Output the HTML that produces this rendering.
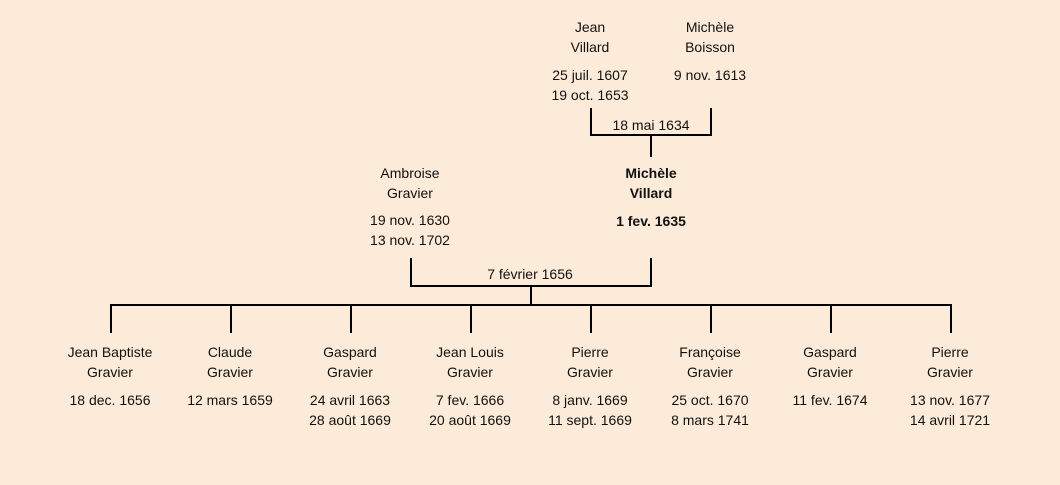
<!DOCTYPE html>
<html><head><meta charset="utf-8"><style>
html,body{margin:0;padding:0;background:#fcebd8;}
svg{display:block}
text{font-family:"Comic Sans MS","Liberation Sans","DejaVu Sans",sans-serif;font-size:14px;fill:#111;text-anchor:middle}
.b{font-weight:bold}
</style></head><body>
<svg width="1060" height="485" viewBox="0 0 1060 485">
<rect width="1060" height="485" fill="#fcebd8"/>
<g stroke="#000" stroke-width="2" fill="none">
<path d="M591 108V135H711V108M651 135V157"/>
<path d="M411 258V286H651V258M531 286V305"/>
<path d="M110 305H952"/>
<path d="M111 305V333M231 305V333M351 305V333M471 305V333M591 305V333M711 305V333M831 305V333M951 305V333"/>
</g>
<text x="590" y="32">Jean</text><text x="590" y="52">Villard</text>
<text x="590" y="80">25 juil. 1607</text><text x="590" y="100">19 oct. 1653</text>
<text x="710" y="32">Michèle</text><text x="710" y="52">Boisson</text>
<text x="710" y="80">9 nov. 1613</text>
<text x="651" y="130">18 mai 1634</text>
<text class="b" x="651" y="178">Michèle</text><text class="b" x="651" y="198">Villard</text>
<text class="b" x="651" y="226">1 fev. 1635</text>
<text x="410" y="178">Ambroise</text><text x="410" y="198">Gravier</text>
<text x="410" y="225">19 nov. 1630</text><text x="410" y="245">13 nov. 1702</text>
<text x="530" y="279">7 février 1656</text>
<g>
<text x="110" y="357">Jean Baptiste</text><text x="110" y="377">Gravier</text><text x="110" y="405">18 dec. 1656</text>
<text x="230" y="357">Claude</text><text x="230" y="377">Gravier</text><text x="230" y="405">12 mars 1659</text>
<text x="350" y="357">Gaspard</text><text x="350" y="377">Gravier</text><text x="350" y="405">24 avril 1663</text><text x="350" y="425">28 août 1669</text>
<text x="470" y="357">Jean Louis</text><text x="470" y="377">Gravier</text><text x="470" y="405">7 fev. 1666</text><text x="470" y="425">20 août 1669</text>
<text x="590" y="357">Pierre</text><text x="590" y="377">Gravier</text><text x="590" y="405">8 janv. 1669</text><text x="590" y="425">11 sept. 1669</text>
<text x="710" y="357">Françoise</text><text x="710" y="377">Gravier</text><text x="710" y="405">25 oct. 1670</text><text x="710" y="425">8 mars 1741</text>
<text x="830" y="357">Gaspard</text><text x="830" y="377">Gravier</text><text x="830" y="405">11 fev. 1674</text>
<text x="950" y="357">Pierre</text><text x="950" y="377">Gravier</text><text x="950" y="405">13 nov. 1677</text><text x="950" y="425">14 avril 1721</text>
</g>
</svg>
</body></html>
